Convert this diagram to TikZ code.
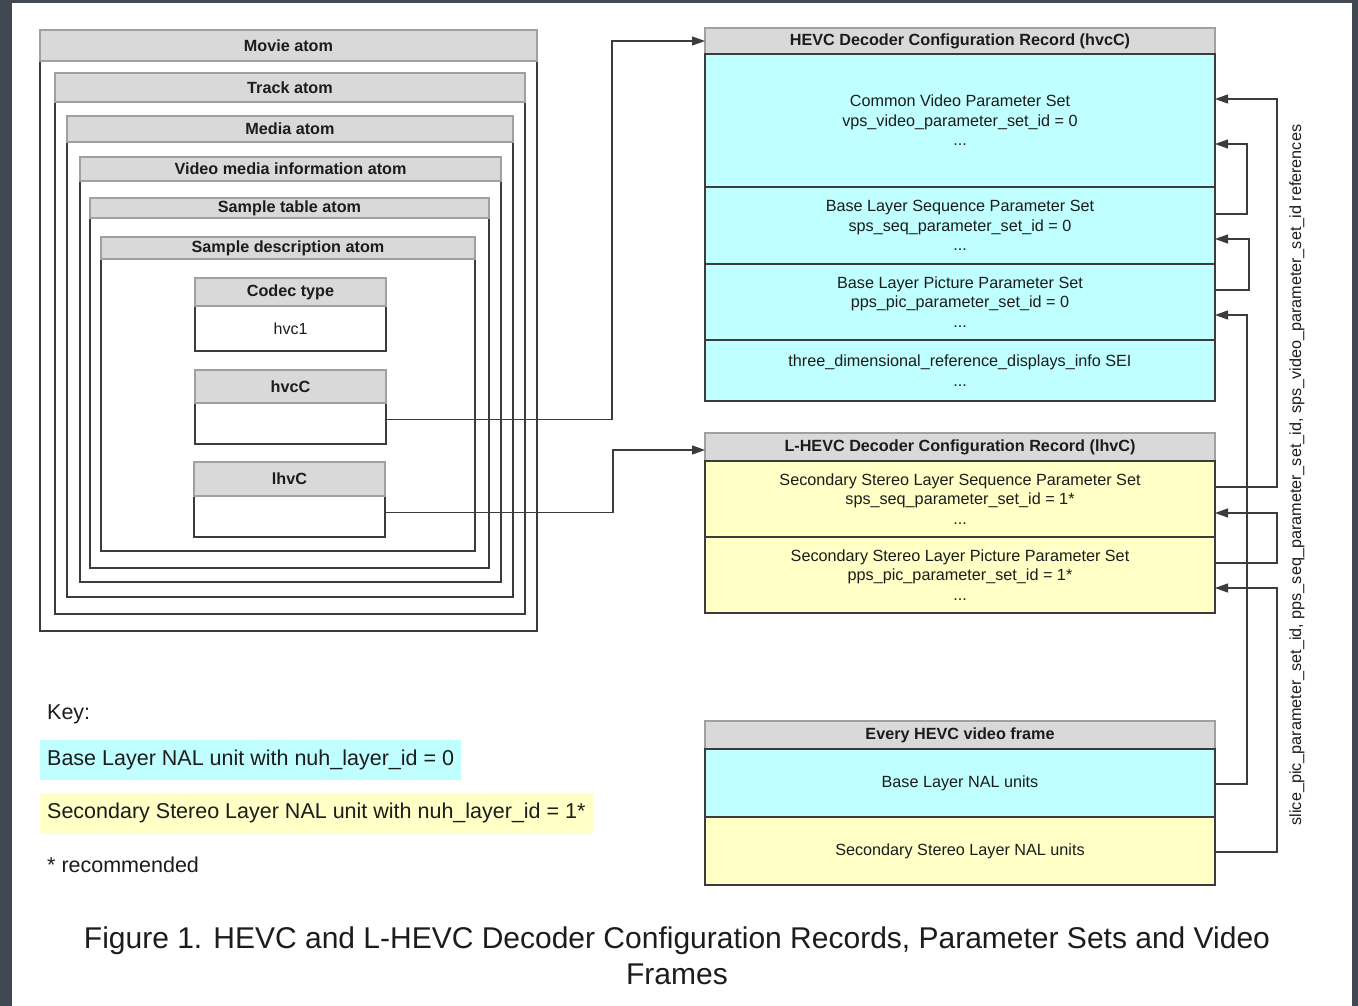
\documentclass[tikz,border=0pt]{standalone}
\usepackage{fontspec}
\setmainfont{Liberation Sans}
\usepackage{tikz}
\usetikzlibrary{arrows.meta, positioning, calc}
\definecolor{framegray}{RGB}{66,72,82}
\definecolor{hdrfill}{RGB}{217,217,217}
\definecolor{hdrline}{RGB}{160,160,160}
\definecolor{boxline}{RGB}{60,60,60}
\definecolor{basecyan}{RGB}{191,255,255}
\definecolor{secyellow}{RGB}{255,255,198}
\definecolor{inkgray}{RGB}{28,28,28}
\tikzset{
  hdr/.style={
    rectangle, draw=hdrline, fill=hdrfill, line width=1.2pt, inner sep=0pt, outer sep=0pt,
    anchor=north west, font=\fontsize{16.2}{19}\selectfont\bfseries
  },
  atombox/.style={
    rectangle, draw=boxline, line width=1.2pt, inner sep=0pt, outer sep=0pt,
    anchor=north west, font=\fontsize{16}{19}\selectfont
  },
  cell/.style={
    rectangle, draw=boxline, fill=#1, line width=1.2pt, inner sep=0pt, outer sep=0pt,
    anchor=north west, minimum width=510pt, align=center,
    font=\fontsize{16.2}{19.5}\selectfont
  },
  keybox/.style={
    rectangle, fill=#1, inner sep=7pt, anchor=west, minimum height=40pt,
    font=\fontsize{21.5}{25}\selectfont
  },
  keytext/.style={anchor=west, inner sep=7pt, font=\fontsize{21.5}{25}\selectfont},
  link/.style={draw=boxline, line width=1.2pt, -{Triangle[length=13pt,width=9pt]}}
}

\begin{document}
\begin{tikzpicture}[x=1pt, y=-1pt, color=inkgray]
  % page frame
  \fill[framegray] (0,0) rectangle (1358,1006);
  \fill[white] (12,3) rectangle (1352,1006);
  \useasboundingbox (0,0) rectangle (1358,1006);

  % nested atoms of the file
  \foreach \nm/\lbl/\xa/\xb/\ya/\yb/\yc in {
      movie/Movie atom/40/537/30/61/631,
      track/Track atom/55/525/73/102/614,
      media/Media atom/67/513/116/142/597,
      vmhd/Video media information atom/80/501/157/181/582,
      stbl/Sample table atom/90/489/198/218/568,
      stsd/Sample description atom/101/475/237/259/551}
  {
    \node[atombox, minimum width={(\xb-\xa)*1pt}, minimum height={(\yc-\yb)*1pt}] (\nm) at (\xa,\yb) {};
    \node[hdr, minimum width={(\xb-\xa)*1pt}, minimum height={(\yb-\ya)*1pt}] (\nm-h) at (\xa,\ya) {\lbl};
  }

  % sample entry boxes
  \foreach \nm/\lbl/\body/\xa/\ya/\yb/\yc in {
      codec/Codec type/hvc1/195/278/306/351,
      hvcc/hvcC//195/370/403/444,
      lhvc/lhvC//194/462/496/537}
  {
    \node[atombox, minimum width=191pt, minimum height={(\yc-\yb)*1pt}] (\nm) at (\xa,\yb) {\body};
    \node[hdr, minimum width=191pt, minimum height={(\yb-\ya)*1pt}] (\nm-h) at (\xa,\ya) {\lbl};
  }

  % HEVC decoder configuration record
  \node[hdr, minimum width=510pt, minimum height=26pt] (rec-h) at (705,28) {HEVC Decoder Configuration Record (hvcC)};
  \node[cell=basecyan, minimum height=133pt] (vps) at (rec-h.south west)
    {Common Video Parameter Set\\vps\_video\_parameter\_set\_id = 0\\...};
  \node[cell=basecyan, minimum height=77pt] (sps) at (vps.south west)
    {Base Layer Sequence Parameter Set\\sps\_seq\_parameter\_set\_id = 0\\...};
  \node[cell=basecyan, minimum height=76pt] (pps) at (sps.south west)
    {Base Layer Picture Parameter Set\\pps\_pic\_parameter\_set\_id = 0\\...};
  \node[cell=basecyan, minimum height=61pt] (sei) at (pps.south west)
    {three\_dimensional\_reference\_displays\_info SEI\\...};
  \draw[boxline, line width=2pt] (pps.north west) -- (pps.north east);

  % L-HEVC decoder configuration record
  \node[hdr, minimum width=510pt, minimum height=28pt] (lrec-h) at (705,433) {L-HEVC Decoder Configuration Record (lhvC)};
  \node[cell=secyellow, minimum height=76pt] (lsps) at (lrec-h.south west)
    {Secondary Stereo Layer Sequence Parameter Set\\sps\_seq\_parameter\_set\_id = 1*\\...};
  \node[cell=secyellow, minimum height=76pt] (lpps) at (lsps.south west)
    {Secondary Stereo Layer Picture Parameter Set\\pps\_pic\_parameter\_set\_id = 1*\\...};

  % video frame
  \node[hdr, minimum width=510pt, minimum height=28pt] (frame-h) at (705,721) {Every HEVC video frame};
  \node[cell=basecyan, minimum height=68pt] (fbase) at (frame-h.south west) {Base Layer NAL units};
  \node[cell=secyellow, minimum height=68pt] (fsec) at (fbase.south west) {Secondary Stereo Layer NAL units};

  % sample entries point to their records
  \draw[link] ([yshift=4pt]hvcc.east) -- ++(226,0) |- (rec-h.west);
  \draw[link] ([yshift=4pt]lhvc.east) -- ++(228,0) |- ([yshift=-3pt]lrec-h.west);

  % parameter set id references
  \foreach \src/\sy/\dx/\dst/\dy in {
      lsps/12/62/vps/21.5, sps/11.5/32/vps/-23.5, pps/12/34/sps/-13.5,
      fbase/-1/32/pps/-13, lpps/12/62/lsps/-14, fsec/-1/62/lpps/-13}
    \draw[link] ([yshift=\sy pt]\src.east) -- ++(\dx,0) |- ([yshift=\dy pt]\dst.east);

  \node[rotate=90, font=\fontsize{16.2}{18}\selectfont] (refs) at (1297,475)
    {slice\_pic\_parameter\_set\_id, pps\_seq\_parameter\_set\_id, sps\_video\_parameter\_set\_id references};

  % key
  \node[keytext] (key) at (40,714) {Key:};
  \node[keybox=basecyan] (key-base) at (40,760) {Base Layer NAL unit with nuh\_layer\_id = 0};
  \node[keybox=secyellow] (key-sec) at (40,812.5) {Secondary Stereo Layer NAL unit with nuh\_layer\_id = 1*};
  \node[keytext] (key-note) at (40,865) {* recommended};

  \node[align=center, font=\fontsize{30}{36}\selectfont] (caption) at (677,956)
    {Figure 1. HEVC and L-HEVC Decoder Configuration Records, Parameter Sets and Video\\Frames};
\end{tikzpicture}
\end{document}
